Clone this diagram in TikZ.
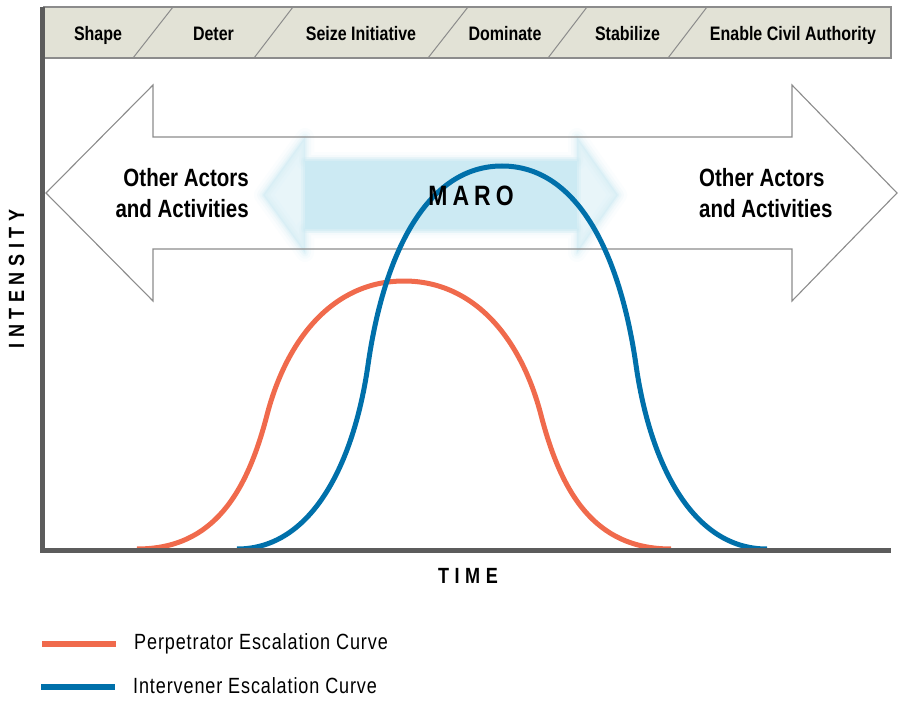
\documentclass[tikz,border=0pt]{standalone}
\usepackage{fontspec}
\setmainfont{Liberation Sans}[FakeStretch=0.82]
\definecolor{hdrfill}{RGB}{226,226,214}
\definecolor{hdrline}{RGB}{140,140,140}
\definecolor{axisgray}{RGB}{92,92,92}
\definecolor{perporange}{RGB}{240,106,76}
\definecolor{intblue}{RGB}{0,112,170}
\definecolor{maroblue}{RGB}{204,234,243}
\begin{document}
\begin{tikzpicture}[x=1pt,y=-1pt,
  hdr/.style={font=\bfseries\fontsize{19.5}{22}\selectfont, anchor=base, inner sep=0pt},
  sep/.style={draw=hdrline, line width=1pt},
  side/.style={font=\bfseries\fontsize{25}{31}\selectfont, inner sep=0pt},
  axlbl/.style={font=\bfseries\fontsize{22}{24}\selectfont\addfontfeature{LetterSpace=25}, inner sep=0pt},
  legendtxt/.style={font=\fontsize{22}{24}\selectfont\addfontfeature{LetterSpace=4}, anchor=base west, inner sep=0pt},
  perp/.style={draw=perporange, line width=5pt},
  interv/.style={draw=intblue, line width=5pt},
  axisline/.style={draw=axisgray, line width=5pt},
  bigarrow/.style={insert path={(46,193) -- (153,85) -- (153,137) -- (792,137) -- (792,85) -- (897,193) -- (792,301) -- (792,249) -- (153,249) -- (153,301) -- cycle}},
  maroarrow/.style={insert path={(263,195) -- (305,137) -- (305,161) -- (577,161) -- (577,137) -- (618,195) -- (577,253) -- (577,229) -- (305,229) -- (305,253) -- cycle}},
  maroshaft/.style={insert path={(305,161) rectangle (577,229)}},
]
\useasboundingbox (0,0) rectangle (898,701);

% phase band along the top
\draw[draw=hdrline, fill=hdrfill, line width=1.2pt] (44,7) rectangle (891,58);
\foreach \a/\b in {133/173, 254/293, 428/468, 548/587, 668/707}
  \draw[sep] (\a,58) -- (\b,7);
\node[hdr] (pshape) at (98,41) {Shape};
\node[hdr] (pdeter) at (213.5,41) {Deter};
\node[hdr] (pseize) at (361,41) {Seize Initiative};
\node[hdr] (pdom) at (505,41) {Dominate};
\node[hdr] (pstab) at (627.5,41) {Stabilize};
\node[hdr] (pciv) at (793,41) {Enable Civil Authority};

% outlined double arrow
\path[fill=white, bigarrow];

% soft light-blue MARO arrow
\foreach \w/\o in {18/0.08, 12/0.12, 7/0.18, 3/0.25}
  \draw[maroblue, line width=\w pt, opacity=\o, line join=round, maroarrow];
\fill[maroblue, opacity=0.45, maroarrow];
\foreach \w/\o in {8/0.25, 4/0.4}
  \draw[maroblue, line width=\w pt, opacity=\o, line join=round, maroshaft];
\fill[maroblue, maroshaft];

\draw[draw=hdrline, line width=1.1pt, line join=miter, bigarrow];

\node[side, align=right, anchor=base east] (othersL) at (249,217) {Other Actors\\and Activities};
\node[side, align=left, anchor=base west] (othersR) at (699,217) {Other Actors\\and Activities};

% escalation curves
\draw[perp] (137,549) .. controls (214,549) and (247,492) .. (267,415)
  .. controls (287,338) and (334,281) .. (404,281)
  .. controls (474,281) and (521,338) .. (541,415)
  .. controls (561,492) and (594,549) .. (671,549);
\draw[interv] (237,549) .. controls (312,549) and (354,463) .. (368,365)
  .. controls (384,253) and (427,166) .. (502,166)
  .. controls (577,166) and (620,253) .. (636,365)
  .. controls (650,463) and (692,549) .. (767,549);

\node[font=\bfseries\fontsize{28}{30}\selectfont\addfontfeature{LetterSpace=18}, anchor=base, inner sep=0pt] (maro) at (471,205) {MARO};

% axes
\draw[axisline, line join=miter] (42.5,7) |- (891,550.5);
\node[axlbl, anchor=base] (time) at (468,583) {TIME};
\node[axlbl, rotate=90, anchor=base] (intensity) at (24,279) {INTENSITY};

% legend
\coordinate (lgo1) at (42,644);
\coordinate (lgo2) at (116,644);
\coordinate (lgb1) at (41,687);
\coordinate (lgb2) at (115,687);
\draw[perp, line width=6pt] (lgo1) -- (lgo2);
\draw[interv, line width=6pt] (lgb1) -- (lgb2);
\node[legendtxt] (lgperp) at (134,649) {Perpetrator Escalation Curve};
\node[legendtxt] (lgint) at (133,693) {Intervener Escalation Curve};
\end{tikzpicture}
\end{document}
